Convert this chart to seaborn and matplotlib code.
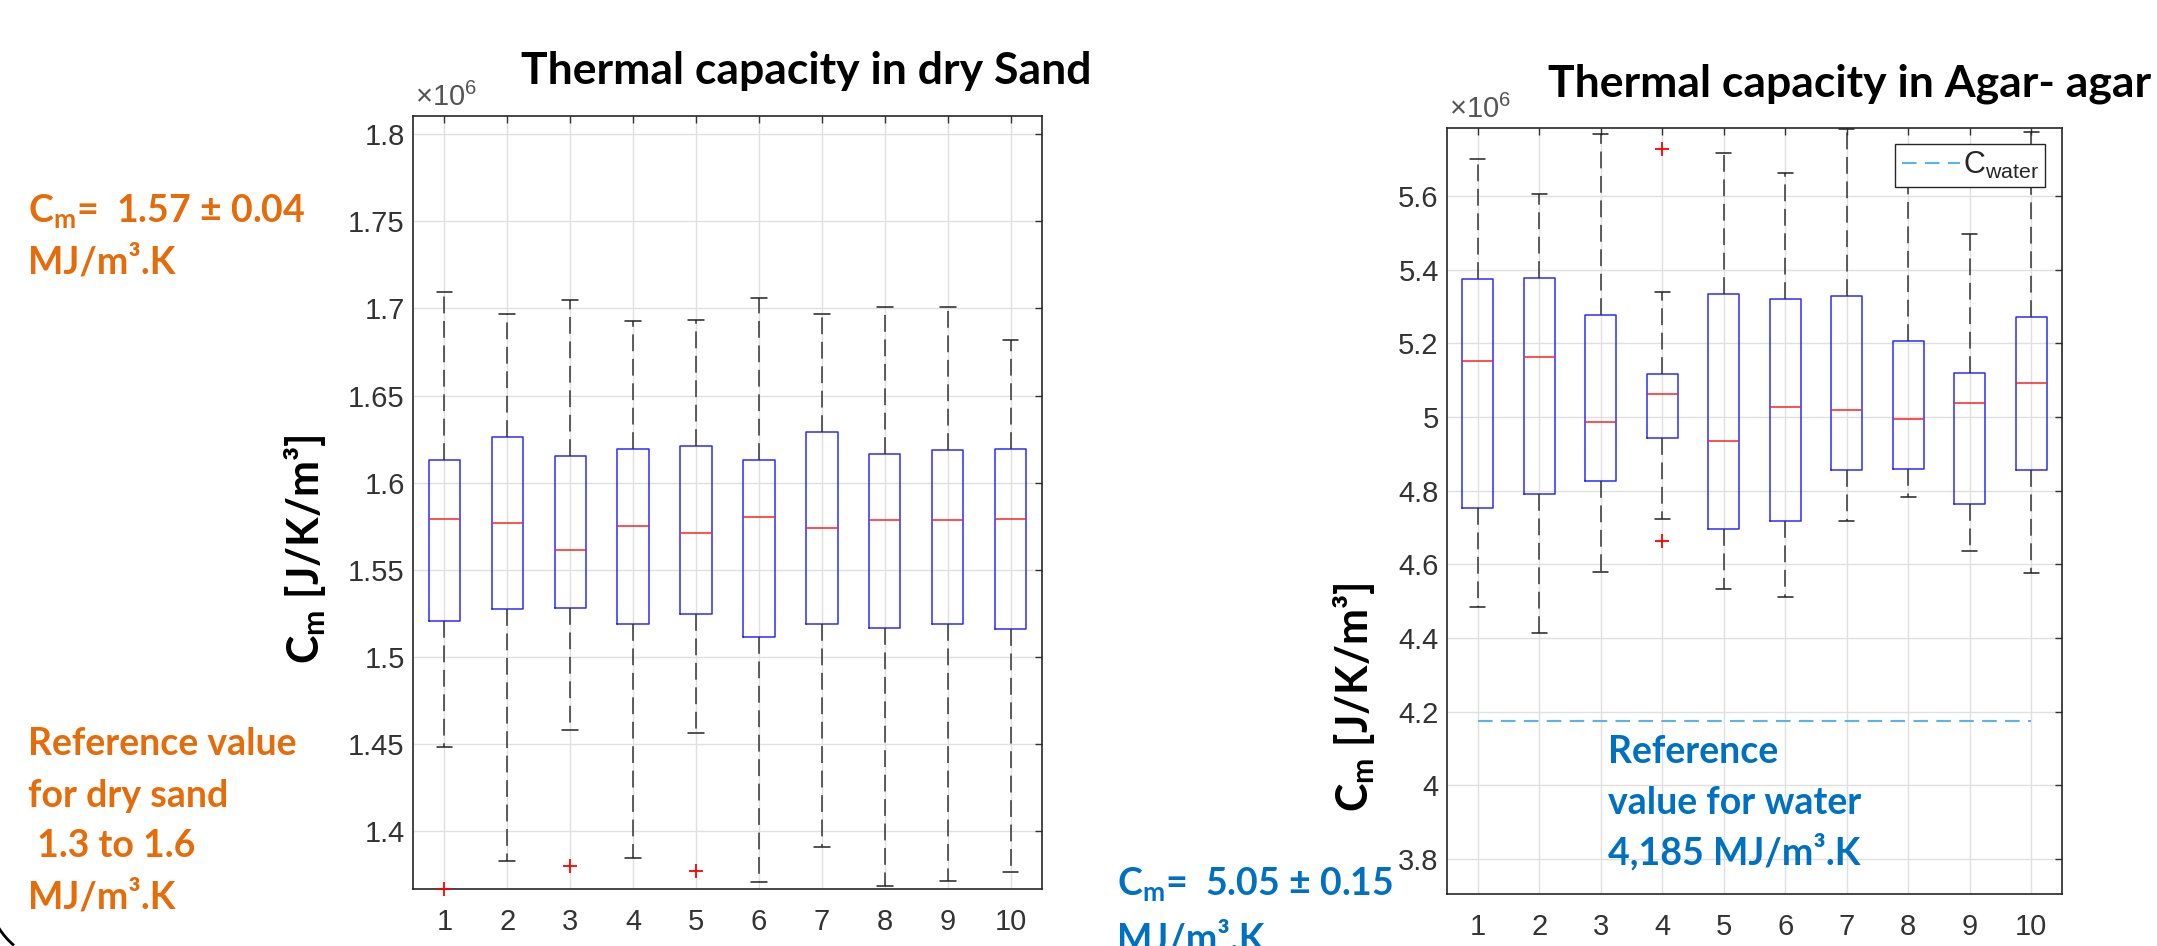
import numpy as np
import pandas as pd
import matplotlib
matplotlib.use('Agg')
import matplotlib.pyplot as plt
import matplotlib.ticker as mticker
from matplotlib.patches import Arc
import seaborn as sns

runs = list(range(1, 11))

# dry sand, in 1e6 J/K/m^3
sand_lo_whisker = [1.4485, 1.3831, 1.4582, 1.3845, 1.4564, 1.3710, 1.3910, 1.3685, 1.3717, 1.3768]
sand_q1 = [1.5208, 1.5277, 1.5280, 1.5190, 1.5249, 1.5118, 1.5190, 1.5166, 1.5190, 1.5163]
sand_median = [1.5792, 1.5768, 1.5616, 1.5751, 1.5709, 1.5803, 1.5741, 1.5786, 1.5786, 1.5792]
sand_q3 = [1.6132, 1.6263, 1.6152, 1.6194, 1.6208, 1.6128, 1.6291, 1.6166, 1.6190, 1.6194]
sand_hi_whisker = [1.7093, 1.6965, 1.7049, 1.6927, 1.6934, 1.7059, 1.6965, 1.7007, 1.7007, 1.6820]
sand_outlier_run = [1, 3, 5]
sand_outlier_val = [1.3671, 1.3800, 1.3775]
sand_yticks = [1.4, 1.45, 1.5, 1.55, 1.6, 1.65, 1.7, 1.75, 1.8]

# agar-agar
agar_lo_whisker = [4.4854, 4.4134, 4.5803, 4.7244, 4.5345, 4.5116, 4.7178, 4.7833, 4.6376, 4.5771]
agar_q1 = [4.7522, 4.7900, 4.8258, 4.9437, 4.6949, 4.7178, 4.8553, 4.8602, 4.7653, 4.8553]
agar_median = [5.1532, 5.1630, 4.9879, 5.0632, 4.9355, 5.0272, 5.0190, 4.9944, 5.0370, 5.0926]
agar_q3 = [5.3758, 5.3790, 5.2776, 5.1172, 5.3349, 5.3201, 5.3283, 5.2055, 5.1188, 5.2727]
agar_hi_whisker = [5.6998, 5.6065, 5.7686, 5.3398, 5.7162, 5.6622, 5.7817, 5.6800, 5.4985, 5.7735]
agar_outlier_run = [4, 4]
agar_outlier_val = [5.7293, 4.6638]
agar_yticks = [3.8, 4.0, 4.2, 4.4, 4.6, 4.8, 5.0, 5.2, 5.4, 5.6]
c_water = 4.175

sns.set_theme(style='white')
plt.rcParams['font.family'] = ['Liberation Sans', 'DejaVu Sans']
plt.rcParams['mathtext.fontset'] = 'custom'
plt.rcParams['mathtext.rm'] = 'Liberation Sans'
plt.rcParams['mathtext.bf'] = 'Lato:bold'

orange = '#E46C0A'
blue_txt = '#0070C0'
W, H = 2157, 946
fig = plt.figure(figsize=(W / 100, H / 100), dpi=100)
ax1 = fig.add_axes([413 / W, 1 - 889 / H, 629 / W, 773 / H])
ax2 = fig.add_axes([1447 / W, 1 - 894 / H, 615 / W, 766 / H])


def draw_boxes(ax, lo, q1, med, q3, hi, out_x, out_y):
    df = pd.DataFrame({'run': np.repeat(runs, 5),
                       'Cm': np.column_stack([lo, q1, med, q3, hi]).ravel() * 1e6})
    sns.boxplot(data=df, x='run', y='Cm', ax=ax, native_scale=True, width=0.5,
                whis=(0, 100), fill=False, linewidth=1.1, showfliers=False,
                boxprops=dict(color='#2B2BFF'),
                medianprops=dict(color='#FF2020'),
                whiskerprops=dict(color='#333333', linestyle=(0, (11, 5))),
                capprops=dict(color='#222222'))
    sns.scatterplot(x=out_x, y=np.array(out_y) * 1e6, ax=ax, marker='+', color='red',
                    s=90, linewidth=1.3, legend=False, zorder=5, clip_on=False)


def style_axes(ax, ylim, yticks):
    ax.set_xlim(0.5, 10.5)
    ax.set_ylim(ylim[0] * 1e6, ylim[1] * 1e6)
    ax.set_xticks(runs)
    ax.set_yticks([t * 1e6 for t in yticks])
    ax.yaxis.set_major_formatter(mticker.FuncFormatter(lambda v, p: f'{v / 1e6:g}'))
    ax.grid(True, color='#e0e0e0', linewidth=1.0)
    ax.set_axisbelow(True)
    ax.tick_params(direction='in', length=5, width=1, top=True, right=True,
                   labelsize=21, colors='#333333')
    ax.tick_params(axis='x', pad=14)
    ax.tick_params(axis='y', pad=6)
    for s in ax.spines.values():
        s.set_visible(True)
        s.set_color('#262626')
        s.set_linewidth(1.2)
    ax.set_xlabel('')
    ax.set_ylabel('')
    ax.text(0.003, 1.005, '×10$^{6}$', transform=ax.transAxes, fontsize=21,
            color='#555555', ha='left', va='bottom')


draw_boxes(ax1, sand_lo_whisker, sand_q1, sand_median, sand_q3, sand_hi_whisker,
           sand_outlier_run, sand_outlier_val)
style_axes(ax1, (1.367, 1.8103), sand_yticks)

draw_boxes(ax2, agar_lo_whisker, agar_q1, agar_median, agar_q3, agar_hi_whisker,
           agar_outlier_run, agar_outlier_val)
sns.lineplot(x=[1, 10], y=[c_water * 1e6] * 2, ax=ax2, color='#5AB4E5',
             linestyle=(0, (7, 4)), linewidth=1.5, label=r'$\mathrm{C}_{\mathrm{water}}$')
style_axes(ax2, (3.705, 5.785), agar_yticks)
leg = ax2.legend(loc='upper right', bbox_to_anchor=(1 - 17 / 615, 1 - 16 / 766),
                 borderaxespad=0, fontsize=22, handlelength=1.9, handletextpad=0.1,
                 borderpad=0.2, fancybox=False, framealpha=1, edgecolor='#262626')
leg.get_frame().set_linewidth(1.0)
leg.set_zorder(10)

title_kw = dict(fontfamily='Lato', fontweight='bold', fontsize=32, color='black',
                ha='center', va='baseline')
fig.text(806 / W, 1 - 84 / H, 'Thermal capacity in dry Sand', **title_kw)
fig.text(1850 / W, 1 - 96 / H, 'Thermal capacity in Agar- agar', **title_kw)

ylab_kw = dict(fontfamily='Lato', fontweight='bold', fontsize=31, color='black',
               rotation=90, ha='center', va='center')
fig.text(305 / W, 1 - 549 / H, r'$\mathbf{C}_\mathbf{m}$ [J/K/m³]', **ylab_kw)
fig.text(1354 / W, 1 - 697 / H, r'$\mathbf{C}_\mathbf{m}$ [J/K/m³]', **ylab_kw)

note_kw = dict(fontfamily='Lato', fontweight='bold', fontsize=27, ha='left', va='baseline')
orange_lines = [(223, r'$\mathbf{C}_\mathbf{m}$=  1.57 ± 0.04'), (273, 'MJ/m³.K'),
                (755, 'Reference value'), (807, 'for dry sand'),
                (857, ' 1.3 to 1.6'), (908, 'MJ/m³.K')]
for yy, txt in orange_lines:
    fig.text(28 / W, 1 - yy / H, txt, color=orange, **note_kw)

# second line of the agar note runs off the bottom edge, as in the source image
blue_lines = [(1117, 896, r'$\mathbf{C}_\mathbf{m}$=  5.05 ± 0.15'), (1117, 950, 'MJ/m³.K'),
              (1608, 763, 'Reference'), (1608, 814, 'value for water'),
              (1608, 864, '4,185 MJ/m³.K')]
for xx, yy, txt in blue_lines:
    fig.text(xx / W, 1 - yy / H, txt, color=blue_txt, **note_kw)

fig.add_artist(Arc((60 / W, 1 - 890 / H), 2 * 72 / W, 2 * 72 / H, theta1=212, theta2=250,
                   transform=fig.transFigure, color='black', linewidth=2))

fig.savefig('out.png', dpi=100)
